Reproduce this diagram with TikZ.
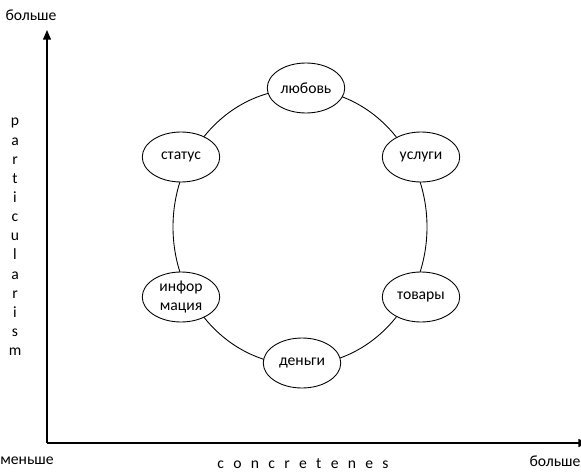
\documentclass[tikz,border=0pt]{standalone}
\usepackage{fontspec}
\setmainfont{Carlito}
\usetikzlibrary{arrows.meta,shapes.geometric}

\begin{document}
\begin{tikzpicture}[x=0.02cm, y=-0.02cm, >={Triangle[length=5.5pt,width=4.5pt]},
    every node/.style={font=\fontsize{8.9}{10.5}\selectfont},
    value/.style={draw, ellipse, line width=0.5pt, fill=white, minimum width=1.55cm,
        minimum height=1.0cm, align=center, inner sep=1pt}]
    \useasboundingbox (0,0) rectangle (581,473);
    \coordinate (O) at (47,443);
    \coordinate (T) at (47,30);
    \coordinate (R) at (588,443); % tip falls just outside the page
    \draw[->, line width=0.8pt] (O) -- (T);
    \draw[->, line width=0.8pt] (O) -- (R);
    \node (moreY) at (31,15) {больше};
    \node (less) at (27,461) {меньше};
    \node (moreX) at (555,461) {больше};
    \node (concr) at (303,464) {\spaceskip=5.3pt c o n c r e t e n e s};
    \node[align=center, font=\fontsize{8.9}{10.9}\selectfont] (partic) at (15,237)
        {p\\a\\r\\t\\i\\c\\u\\l\\a\\r\\i\\s\\m};
    % cycle of resources
    \coordinate (M) at (300,227);
    \draw[line width=0.5pt] (M) ellipse [x radius=127, y radius=138];
    \node[value] (love) at (306,88) {любовь};
    \node[value] (serv) at (421,157) {услуги};
    \node[value] (goods) at (421,297) {товары};
    \node[value] (money) at (302,363) {деньги};
    \node[value] (info) at (181,297) {инфор\\мация};
    \node[value] (status) at (181,157) {статус};
\end{tikzpicture}
\end{document}
